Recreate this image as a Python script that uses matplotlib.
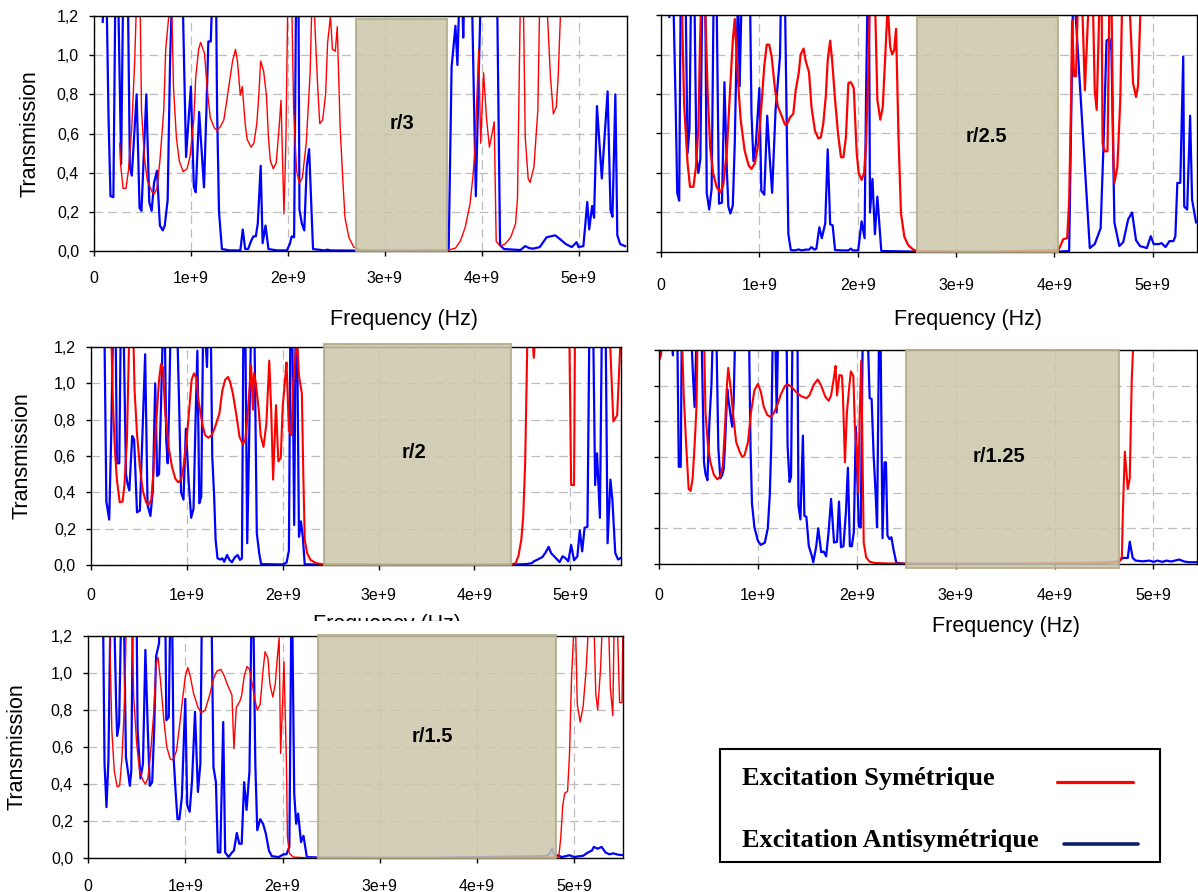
import numpy as np
import matplotlib
matplotlib.use('Agg')
import matplotlib.pyplot as plt
from matplotlib.patches import Rectangle
from matplotlib.lines import Line2D

# ---------------- DATA (frequency in GHz, transmission) ----------------
p1_blue = [(0.09,1.17),(0.10,1.3),(0.13,1.3),(0.15,0.68),(0.17,0.28),(0.20,0.275),(0.22,1.3),(0.25,1.3),(0.28,0.445),(0.30,1.3),
           (0.35,1.3),(0.37,0.43),(0.39,0.385),(0.44,0.80),(0.47,0.22),(0.49,0.205),(0.54,0.80),(0.57,0.25),(0.595,0.205),(0.62,0.35),
           (0.65,0.41),(0.68,0.13),(0.71,0.105),(0.73,0.13),(0.76,0.26),(0.785,0.97),(0.805,1.3),(0.915,1.3),(0.95,0.48),(0.97,0.63),
           (1.0,0.84),(1.03,0.33),(1.05,0.30),(1.085,0.71),(1.135,0.325),(1.16,0.72),(1.18,1.07),(1.205,1.07),(1.22,1.3),(1.26,1.3),
           (1.27,0.72),(1.29,0.20),(1.32,0.01),(1.40,0.003),(1.51,0.003),(1.535,0.11),(1.56,0.01),(1.59,0.01),(1.62,0.05),(1.645,0.075),
           (1.67,0.075),(1.69,0.14),(1.72,0.435),(1.74,0.04),(1.77,0.13),(1.80,0.01),(1.89,0.003),(1.99,0.003),(2.02,0.035),(2.04,0.075),
           (2.065,0.07),(2.085,1.3),(2.11,1.3),(2.12,0.21),(2.145,0.14),(2.17,0.105),(2.195,0.43),(2.22,0.52),(2.26,0.01),(2.38,0.003),
           (2.41,0.007),(2.44,0.003),(2.70,0.002),(3.0,0.001),(3.64,0.003),(3.66,0.01),(3.69,0.94),(3.73,1.15),(3.75,0.95),(3.77,1.3),
           (3.80,1.3),(3.81,1.09),(3.82,1.3),(3.90,1.3),(3.94,0.28),(3.99,1.3),(4.16,1.3),(4.19,0.03),(4.23,0.01),
           (4.40,0.005),(4.45,0.025),(4.49,0.015),(4.53,0.012),(4.60,0.02),(4.67,0.07),(4.76,0.08),(4.81,0.06),(4.87,0.035),(4.93,0.02),
           (4.98,0.045),(5.0,0.02),(5.05,0.025),(5.09,0.25),(5.11,0.11),(5.14,0.23),(5.16,0.17),(5.19,0.74),(5.24,0.37),(5.30,0.815),
           (5.33,0.21),(5.35,0.175),(5.38,0.80),(5.40,0.08),(5.43,0.035),(5.48,0.025)]
p1_red = [(0.265,0.55),(0.275,0.44),(0.30,0.32),(0.33,0.32),(0.355,0.41),(0.39,0.63),(0.42,0.97),(0.44,1.3),(0.475,1.3),(0.49,0.72),
          (0.52,0.48),(0.55,0.36),(0.60,0.30),(0.62,0.29),(0.65,0.32),(0.68,0.46),(0.72,0.72),(0.74,1.03),(0.77,1.19),(0.80,1.3),
          (0.82,0.84),(0.85,0.58),(0.88,0.46),(0.92,0.405),(0.96,0.42),(0.99,0.48),(1.03,0.67),(1.05,0.89),(1.08,1.03),(1.10,1.065),
          (1.14,1.01),(1.17,0.82),(1.20,0.68),(1.24,0.63),(1.27,0.615),(1.31,0.64),(1.34,0.67),(1.38,0.80),(1.40,0.87),(1.43,0.97),
          (1.46,1.03),(1.48,0.97),(1.51,0.795),(1.53,0.84),(1.56,0.65),(1.58,0.57),(1.62,0.53),(1.65,0.55),(1.68,0.65),(1.70,0.79),
          (1.72,0.97),(1.75,0.92),(1.78,0.79),(1.80,0.58),(1.82,0.46),(1.85,0.42),(1.88,0.45),(1.91,0.63),(1.93,0.77),(1.96,0.19),
          (1.98,0.55),(2.0,1.3),(2.04,1.3),(2.06,0.72),(2.09,0.41),(2.12,0.345),(2.15,0.375),(2.19,0.55),(2.23,0.905),(2.25,1.3),
          (2.27,1.3),(2.28,1.145),(2.31,0.82),(2.33,0.65),(2.36,0.67),(2.39,0.80),(2.41,1.06),(2.44,1.2),(2.46,1.03),(2.49,1.02),
          (2.51,1.145),(2.54,0.63),(2.57,0.34),(2.59,0.17),(2.63,0.07),(2.68,0.02),(2.75,0.007),(3.2,0.002),(3.66,0.005),(3.73,0.015),
          (3.78,0.05),(3.83,0.12),(3.88,0.24),(3.91,0.38),(3.93,0.51),(3.97,1.03),(3.99,0.55),(4.02,0.91),(4.05,0.68),(4.08,0.53),
          (4.10,0.58),(4.13,0.66),(4.15,0.05),(4.19,0.025),(4.24,0.035),(4.30,0.07),(4.35,0.14),(4.37,0.27),(4.40,1.3),(4.43,1.3),
          (4.45,0.58),(4.48,0.37),(4.50,0.35),(4.54,0.43),(4.58,0.72),(4.60,1.3),(4.67,1.3),(4.71,0.89),(4.74,0.70),(4.77,0.735),
          (4.79,0.89),(4.82,1.3),(5.5,1.3)]

p2_blue = [(0.085,1.19),(0.10,1.3),(0.125,1.3),(0.15,0.72),(0.165,0.30),(0.185,0.26),(0.20,1.3),(0.25,1.3),(0.27,0.50),(0.29,0.63),
           (0.305,1.3),(0.34,1.3),(0.36,0.48),(0.38,0.40),(0.40,0.47),(0.42,1.3),(0.45,1.3),(0.465,0.30),(0.49,0.215),(0.515,0.32),
           (0.535,1.3),(0.565,1.3),(0.59,0.245),(0.62,0.25),(0.645,0.86),(0.67,0.41),(0.685,0.23),(0.705,0.195),(0.73,0.235),(0.75,0.55),
           (0.77,1.06),(0.785,1.3),(0.80,0.84),(0.82,1.3),(0.905,1.3),(0.92,0.70),(0.94,0.46),(0.965,0.55),(1.0,0.83),(1.02,0.31),
           (1.05,0.29),(1.08,0.69),(1.105,0.48),(1.13,0.30),(1.165,0.72),(1.21,0.99),(1.22,1.3),(1.26,1.3),(1.28,0.58),(1.295,0.09),
           (1.32,0.01),(1.36,0.008),(1.40,0.013),(1.43,0.008),(1.47,0.012),(1.505,0.012),(1.53,0.025),(1.56,0.012),(1.58,0.017),(1.61,0.125),
           (1.635,0.07),(1.67,0.145),(1.695,0.52),(1.72,0.14),(1.745,0.135),(1.77,0.01),(1.84,0.008),(1.905,0.008),(1.93,0.017),(1.95,0.008),
           (2.005,0.008),(2.04,0.155),(2.07,0.07),(2.085,0.80),(2.10,1.3),(2.115,1.3),(2.125,0.20),(2.15,0.37),(2.175,0.09),(2.20,0.28),
           (2.24,0.005),(2.58,0.002),(3.0,0.001),(4.04,0.002),(4.15,0.005),(4.19,1.3),(4.21,1.25),(4.36,0.02),(4.41,0.04),(4.47,0.12),
           (4.50,0.55),(4.53,1.07),(4.56,1.08),(4.58,1.02),(4.61,0.15),(4.66,0.03),(4.70,0.05),(4.75,0.165),(4.79,0.20),(4.83,0.06),
           (4.87,0.03),(4.94,0.02),(4.98,0.08),(5.01,0.04),(5.06,0.04),(5.09,0.045),(5.13,0.025),(5.17,0.055),(5.21,0.055),(5.23,0.08),
           (5.25,0.35),(5.28,0.35),(5.31,0.99),(5.32,0.23),(5.35,0.215),(5.38,0.69),(5.40,0.265),(5.44,0.15)]
p2_red = [(0.21,1.3),(0.235,0.75),(0.27,0.45),(0.295,0.33),(0.33,0.33),(0.355,0.43),(0.38,0.63),(0.395,1.02),(0.41,1.3),(0.445,1.3),
          (0.475,0.80),(0.50,0.53),(0.53,0.40),(0.565,0.33),(0.605,0.30),(0.635,0.345),(0.67,0.515),(0.70,0.80),(0.73,1.07),(0.75,1.18),
          (0.78,0.89),(0.81,0.67),(0.85,0.515),(0.89,0.44),(0.92,0.42),(0.955,0.45),(0.99,0.55),(1.02,0.735),(1.05,0.94),(1.075,1.05),
          (1.10,1.05),(1.125,0.99),(1.16,0.82),(1.19,0.735),(1.23,0.685),(1.26,0.645),(1.29,0.655),(1.31,0.68),(1.345,0.70),(1.37,0.82),
          (1.40,0.905),(1.42,1.0),(1.45,1.03),(1.47,0.97),(1.505,0.91),(1.53,0.735),(1.565,0.615),(1.60,0.575),(1.625,0.58),(1.65,0.65),
          (1.675,0.785),(1.695,0.97),(1.72,1.07),(1.74,0.97),(1.77,0.77),(1.80,0.60),(1.83,0.48),(1.855,0.48),(1.88,0.58),(1.905,0.855),
          (1.93,0.86),(1.96,0.83),(1.99,0.50),(2.01,0.40),(2.04,0.365),(2.065,0.40),(2.085,0.55),(2.11,0.97),(2.125,1.3),(2.175,1.3),
          (2.20,0.77),(2.23,0.67),(2.255,0.735),(2.28,0.99),(2.305,1.25),(2.33,1.04),(2.35,1.0),(2.37,1.02),(2.39,1.13),(2.415,0.58),
          (2.44,0.195),(2.475,0.076),(2.515,0.034),(2.565,0.012),(2.615,0.004),(3.3,0.001),(4.04,0.01),(4.06,0.03),(4.09,0.065),(4.13,0.07),
          (4.15,0.26),(4.17,0.77),(4.18,1.17),(4.20,0.89),(4.22,0.89),(4.24,1.3),(4.28,1.3),(4.31,0.82),(4.34,1.17),(4.36,1.3),
          (4.39,1.3),(4.41,0.82),(4.43,0.72),(4.45,1.1),(4.46,1.3),(4.48,1.3),(4.49,0.55),(4.51,0.51),(4.54,0.51),(4.56,1.3),
          (4.58,1.3),(4.60,0.48),(4.61,0.35),(4.64,0.43),(4.67,0.77),(4.69,1.3),(4.76,1.3),(4.80,0.855),(4.83,0.785),(4.85,0.84),
          (4.88,1.3),(5.45,1.3)]

p3_blue = [(0.14,1.3),(0.16,0.35),(0.19,0.25),(0.21,0.69),(0.23,1.3),(0.257,1.3),(0.27,0.56),(0.295,0.56),(0.31,1.3),(0.34,1.3),
           (0.365,0.50),(0.38,0.45),(0.40,0.41),(0.43,0.71),(0.45,0.69),(0.48,0.29),(0.51,0.30),(0.565,1.16),(0.59,0.33),(0.62,0.27),
           (0.645,0.41),(0.67,1.0),(0.69,0.49),(0.71,0.50),(0.73,0.87),(0.75,1.3),(0.77,1.3),(0.785,0.69),(0.80,0.56),(0.815,0.87),
           (0.83,1.3),(0.90,1.3),(0.92,0.87),(0.94,0.40),(0.965,0.36),(0.99,0.75),(1.02,0.45),(1.045,0.26),(1.07,0.31),(1.09,0.78),
           (1.11,1.18),(1.13,0.34),(1.15,0.375),(1.17,1.3),(1.19,1.3),(1.21,1.09),(1.22,1.3),(1.25,1.3),(1.265,0.60),(1.285,0.375),
           (1.30,0.14),(1.32,0.037),(1.35,0.03),(1.37,0.037),(1.39,0.018),(1.42,0.055),(1.445,0.028),(1.47,0.015),(1.50,0.042),(1.53,0.055),
           (1.555,0.028),(1.575,0.037),(1.59,1.3),(1.61,1.3),(1.63,0.12),(1.65,0.69),(1.67,1.3),(1.705,1.3),(1.73,0.175),(1.755,0.065),
           (1.775,0.005),(2.0,0.003),(2.04,0.013),(2.065,0.08),(2.08,1.3),(2.10,1.3),(2.12,0.22),(2.135,1.3),(2.15,1.3),(2.17,0.155),
           (2.19,0.24),(2.21,0.155),(2.23,0.004),(2.42,0.002),(3.3,0.001),(4.38,0.002),(4.54,0.005),(4.60,0.01),(4.62,0.02),(4.66,0.03),
           (4.71,0.044),(4.74,0.066),(4.775,0.10),(4.80,0.066),(4.85,0.038),(4.89,0.016),(4.92,0.048),(4.95,0.038),(4.98,0.02),(5.01,0.11),
           (5.04,0.026),(5.075,0.048),(5.10,0.19),(5.125,0.075),(5.15,0.205),(5.18,0.21),(5.20,1.3),(5.24,1.3),(5.26,0.44),(5.28,0.615),
           (5.31,0.26),(5.33,1.3),(5.37,1.3),(5.39,0.12),(5.42,0.47),(5.44,0.36),(5.47,0.066),(5.50,0.03),(5.53,0.04)]
p3_red = [(0.21,1.3),(0.23,0.87),(0.25,0.63),(0.27,0.47),(0.30,0.345),(0.33,0.35),(0.35,0.45),(0.375,0.69),(0.39,1.05),(0.40,1.3),
          (0.44,1.3),(0.455,0.96),(0.48,0.72),(0.51,0.54),(0.54,0.41),(0.575,0.345),(0.60,0.33),(0.63,0.36),(0.65,0.50),(0.68,0.78),
          (0.71,1.02),(0.73,1.105),(0.75,1.09),(0.775,0.835),(0.81,0.65),(0.845,0.54),(0.88,0.475),(0.91,0.455),(0.94,0.47),(0.965,0.54),
          (1.0,0.705),(1.03,0.89),(1.05,1.02),(1.075,1.055),(1.10,1.03),(1.12,0.91),(1.16,0.78),(1.19,0.715),(1.225,0.70),(1.26,0.715),
          (1.295,0.76),(1.34,0.835),(1.37,0.96),(1.40,1.02),(1.43,1.035),(1.45,1.01),(1.48,0.945),(1.52,0.815),(1.55,0.705),(1.585,0.665),
          (1.61,0.69),(1.63,0.80),(1.65,0.945),(1.67,1.10),(1.69,0.855),(1.70,1.055),(1.72,1.0),(1.75,0.855),(1.77,0.715),(1.80,0.65),
          (1.83,0.78),(1.86,1.125),(1.88,0.855),(1.90,0.47),(1.93,0.88),(1.955,0.57),(1.98,0.59),(2.0,0.87),(2.025,1.02),(2.04,1.115),
          (2.065,0.74),(2.09,0.715),(2.11,1.0),(2.135,1.165),(2.15,1.25),(2.17,1.04),(2.20,0.945),(2.215,0.505),(2.23,0.14),(2.255,0.065),
          (2.29,0.028),(2.35,0.01),(2.42,0.004),(3.4,0.001),(4.38,0.002),(4.43,0.01),(4.46,0.05),(4.49,0.14),(4.51,0.27),(4.53,0.56),
          (4.555,1.3),(4.60,1.3),(4.62,1.14),(4.64,1.3),(4.99,1.3),(5.01,0.44),(5.04,0.44),(5.05,1.3),(5.41,1.3),(5.45,0.79),
          (5.49,0.825),(5.53,1.3)]

p4_blue = [(0.01,1.17),(0.03,1.3),(0.125,1.3),(0.14,1.17),(0.15,1.3),(0.185,1.3),(0.20,0.545),(0.22,0.545),(0.23,1.3),(0.325,1.3),
           (0.345,1.04),(0.36,0.88),(0.38,1.3),(0.43,1.3),(0.455,0.57),(0.47,0.505),(0.49,0.47),(0.51,0.80),(0.53,1.0),(0.545,1.3),
           (0.58,1.3),(0.60,0.65),(0.62,0.48),(0.64,0.50),(0.655,0.535),(0.67,0.70),(0.69,0.98),(0.70,0.93),(0.72,0.85),(0.74,0.77),
           (0.755,0.91),(0.77,1.3),(0.91,1.3),(0.925,0.665),(0.94,0.34),(0.965,0.205),(1.0,0.13),(1.03,0.107),(1.07,0.12),(1.10,0.20),
           (1.12,0.385),(1.135,0.665),(1.15,1.3),(1.175,1.3),(1.19,0.85),(1.205,1.3),(1.29,1.3),(1.30,0.665),(1.32,0.46),(1.335,0.49),
           (1.35,1.3),(1.40,1.3),(1.41,0.33),(1.43,0.25),(1.455,0.72),(1.47,0.27),(1.49,0.265),(1.515,0.10),(1.54,0.056),(1.56,0.01),
           (1.59,0.10),(1.61,0.20),(1.64,0.066),(1.665,0.07),(1.69,0.043),(1.715,0.18),(1.74,0.365),(1.77,0.12),(1.80,0.125),(1.82,0.35),
           (1.84,0.094),(1.865,0.10),(1.89,0.29),(1.91,0.54),(1.93,0.10),(1.95,0.10),(1.97,0.18),(1.99,0.77),(2.02,0.21),(2.04,0.205),
           (2.06,1.3),(2.11,1.3),(2.13,0.93),(2.15,0.925),(2.17,0.61),(2.19,0.40),(2.205,0.205),(2.225,1.3),(2.24,1.3),(2.26,0.145),
           (2.28,0.57),(2.295,0.57),(2.31,0.16),(2.33,0.14),(2.35,0.15),(2.37,0.085),(2.40,0.006),(2.48,0.002),(3.5,0.001),(4.50,0.005),
           (4.65,0.015),(4.69,0.034),(4.74,0.034),(4.76,0.125),(4.79,0.034),(4.82,0.019),(4.89,0.015),(4.96,0.019),(5.0,0.012),(5.04,0.019),
           (5.09,0.012),(5.13,0.019),(5.18,0.014),(5.26,0.025),(5.31,0.014),(5.36,0.01),(5.44,0.01)]
p4_red = [(0.0,1.14),(0.02,1.17),(0.04,1.3),(0.23,1.3),(0.25,0.95),(0.275,0.665),(0.30,0.42),(0.32,0.41),(0.34,0.48),(0.36,0.665),
          (0.38,0.89),(0.39,1.3),(0.455,1.3),(0.47,0.85),(0.495,0.665),(0.52,0.57),(0.555,0.50),(0.59,0.475),(0.62,0.49),(0.645,0.55),
          (0.67,0.80),(0.685,0.985),(0.70,1.10),(0.725,0.985),(0.75,0.835),(0.78,0.685),(0.815,0.63),(0.84,0.60),(0.865,0.61),(0.90,0.685),
          (0.93,0.85),(0.965,0.975),(1.0,1.01),(1.03,0.965),(1.06,0.88),(1.095,0.835),(1.13,0.825),(1.16,0.845),(1.195,0.89),(1.235,0.955),
          (1.275,1.0),(1.31,1.005),(1.345,0.99),(1.385,0.965),(1.44,0.94),(1.49,0.93),(1.52,0.945),(1.565,1.005),(1.605,1.035),(1.64,1.0),
          (1.68,0.94),(1.715,0.915),(1.74,0.945),(1.77,1.05),(1.785,1.11),(1.80,0.945),(1.825,1.06),(1.85,1.055),(1.86,0.945),(1.88,0.57),
          (1.90,0.85),(1.925,1.0),(1.94,1.08),(1.965,1.055),(1.98,0.78),(2.0,0.61),(2.015,0.40),(2.03,0.85),(2.045,1.14),(2.07,0.12),
          (2.095,0.037),(2.13,0.013),(2.18,0.006),(2.31,0.003),(2.52,0.002),(3.5,0.001),(4.65,0.01),(4.68,0.04),(4.69,0.28),(4.71,0.63),
          (4.74,0.42),(4.76,0.48),(4.78,1.03),(4.80,1.3),(5.44,1.3)]

p5_blue = [(0.155,1.3),(0.17,0.51),(0.19,0.275),(0.21,0.53),(0.23,1.3),(0.27,1.3),(0.29,0.815),(0.30,0.66),(0.32,0.725),(0.34,1.3),
           (0.37,1.3),(0.39,0.545),(0.41,0.47),(0.43,0.39),(0.445,0.47),(0.46,1.3),(0.50,1.3),(0.51,0.69),(0.54,0.43),(0.565,0.51),
           (0.59,1.125),(0.615,0.69),(0.635,0.39),(0.66,0.41),(0.68,0.69),(0.70,1.09),(0.73,1.16),(0.74,1.3),(0.795,1.3),(0.805,0.745),
           (0.83,0.76),(0.845,1.3),(0.865,1.3),(0.88,0.545),(0.90,0.365),(0.92,0.21),(0.94,0.21),(0.965,0.33),(1.0,0.86),(1.02,0.285),
           (1.045,0.25),(1.07,0.42),(1.10,0.79),(1.13,0.357),(1.155,0.51),(1.17,1.3),(1.27,1.3),(1.29,0.49),(1.315,0.41),(1.335,0.03),
           (1.36,0.03),(1.39,0.735),(1.41,0.03),(1.445,0.005),(1.48,0.03),(1.50,0.04),(1.53,0.135),(1.555,0.077),(1.58,0.077),(1.605,0.41),
           (1.63,0.26),(1.66,0.47),(1.68,1.3),(1.70,1.3),(1.72,0.51),(1.74,0.15),(1.77,0.21),(1.80,0.185),(1.83,0.128),(1.86,0.04),
           (1.89,0.01),(1.96,0.005),(2.01,0.02),(2.04,0.02),(2.07,0.06),(2.09,1.3),(2.10,1.3),(2.12,0.35),(2.14,0.185),(2.16,0.24),
           (2.19,0.086),(2.215,0.12),(2.25,0.005),(2.4,0.002),(3.5,0.001),(4.70,0.01),(4.74,0.02),(4.77,0.05),(4.80,0.01),(4.83,0.015),
           (4.87,0.005),(4.95,0.015),(5.0,0.005),(5.03,0.008),(5.09,0.012),(5.14,0.03),(5.18,0.04),(5.20,0.06),(5.24,0.05),(5.28,0.06),
           (5.32,0.03),(5.36,0.02),(5.40,0.025),(5.45,0.018),(5.50,0.015)]
p5_red = [(0.22,1.3),(0.245,0.69),(0.27,0.47),(0.30,0.385),(0.325,0.39),(0.35,0.545),(0.37,0.78),(0.385,1.05),(0.395,1.3),(0.45,1.3),
          (0.47,0.87),(0.50,0.62),(0.53,0.47),(0.565,0.42),(0.59,0.40),(0.615,0.43),(0.64,0.545),(0.675,0.78),(0.70,1.05),(0.72,1.085),
          (0.745,0.96),(0.78,0.745),(0.81,0.60),(0.845,0.535),(0.875,0.53),(0.91,0.58),(0.94,0.71),(0.975,0.87),(1.0,0.98),(1.025,1.03),
          (1.05,0.985),(1.085,0.89),(1.13,0.815),(1.165,0.785),(1.205,0.80),(1.25,0.88),(1.29,0.97),(1.325,1.01),(1.365,1.02),(1.40,0.985),
          (1.435,0.935),(1.48,0.88),(1.50,0.59),(1.525,0.815),(1.56,0.845),(1.58,0.88),(1.605,0.98),(1.635,1.035),(1.66,1.02),(1.685,0.95),
          (1.72,0.845),(1.74,0.80),(1.77,0.83),(1.80,1.015),(1.82,1.115),(1.85,1.08),(1.87,0.94),(1.90,0.87),(1.925,0.94),(1.95,1.105),
          (1.965,1.19),(1.98,0.565),(2.0,0.835),(2.015,1.06),(2.04,0.51),(2.05,0.115),(2.07,0.025),(2.11,0.005),(2.22,0.002),(3.5,0.001),
          (4.84,0.005),(4.86,0.11),(4.88,0.28),(4.90,0.35),(4.93,0.36),(4.95,0.56),(4.97,0.96),(5.0,1.3),(5.01,1.3),(5.03,0.83),
          (5.06,0.735),(5.09,0.82),(5.12,1.01),(5.15,1.3),(5.20,1.3),(5.22,0.89),(5.24,0.80),(5.27,1.03),(5.29,1.3),(5.35,1.3),
          (5.37,0.92),(5.395,0.77),(5.41,1.3),(5.44,1.3),(5.465,0.84),(5.49,0.84),(5.50,1.3)]

# band gaps (GHz) and labels
gap_start = [2.70, 2.60, 2.43, 2.50, 2.36]
gap_end = [3.64, 4.04, 4.38, 4.65, 4.81]
gap_labels = ['r/3', 'r/2.5', 'r/2', 'r/1.25', 'r/1.5']
x_tick_labels = ['0', '1e+9', '2e+9', '3e+9', '4e+9', '5e+9']
y_tick_labels = ['0,0', '0,2', '0,4', '0,6', '0,8', '1,0', '1,2']
legend_labels = ['Excitation Symétrique', 'Excitation Antisymétrique']

# ---------------- LAYOUT ----------------
W, H = 1198, 892
plt.rcParams['font.family'] = ['Liberation Sans', 'DejaVu Sans']
fig = plt.figure(figsize=(W / 100, H / 100), dpi=100)

def px_rect(l, t, r, b):
    return [l / W, 1 - b / H, (r - l) / W, (b - t) / H]

panels = [
    dict(box=(94, 16, 627, 251), xmax=5.5, red=p1_red, blue=p1_blue, rlw=1.0, ylab=True, xpad=10.9,
         rect_y=(0.0, 1.185), txt=(3.18, 0.653), ylab_x=41),
    dict(box=(661, 15, 1197, 252), xmax=5.45, red=p2_red, blue=p2_blue, rlw=1.6, ylab=False, xpad=15.3,
         rect_y=(0.0, 1.19), txt=(3.31, 0.585), ylab_x=None),
    dict(box=(91, 347, 621, 565), xmax=5.53, red=p3_red, blue=p3_blue, rlw=1.5, ylab=True, xpad=13.2,
         rect_y=(0.0, 1.215), txt=(3.37, 0.618), ylab_x=33),
    dict(box=(659, 350, 1197, 564), xmax=5.44, red=p4_red, blue=p4_blue, rlw=1.5, ylab=False, xpad=13.9,
         rect_y=(-0.02, 1.2), txt=(3.44, 0.604), ylab_x=None),
    dict(box=(88, 636, 623, 858), xmax=5.5, red=p5_red, blue=p5_blue, rlw=1.0, ylab=True, xpad=11.7,
         rect_y=(0.0, 1.205), txt=(3.54, 0.658), ylab_x=28),
]

axes = []
for i, p in enumerate(panels):
    ax = fig.add_axes(px_rect(*p['box']))
    axes.append(ax)
    bf, bt = np.array(p['blue']).T
    rf, rt = np.array(p['red']).T
    ax.plot(bf * 1e9, bt, color='#0000FF', lw=1.6, zorder=2)
    ax.plot(rf * 1e9, rt, color='#FF0000', lw=p['rlw'], zorder=2.1)
    y0, y1 = p['rect_y']
    ax.add_patch(Rectangle((gap_start[i] * 1e9, y0), (gap_end[i] - gap_start[i]) * 1e9, y1 - y0,
                           facecolor=(0.80, 0.78, 0.67), edgecolor=(0.70, 0.67, 0.52), lw=1.5,
                           alpha=0.85, zorder=3, clip_on=False))
    ax.text(p['txt'][0] * 1e9, p['txt'][1], gap_labels[i], ha='center', va='center',
            fontsize=14.5, fontweight='bold', zorder=4)
    ax.set_xlim(0, p['xmax'] * 1e9)
    ax.set_ylim(0, 1.2)
    ax.set_xticks(np.arange(6) * 1e9)
    ax.set_xticklabels(x_tick_labels)
    ax.set_yticks(np.arange(7) * 0.2)
    ax.set_yticklabels(y_tick_labels)
    ax.grid(True, color='#BDBDBD', lw=0.9, linestyle=(0, (7, 4)))
    ax.set_axisbelow(True)
    ax.tick_params(axis='both', direction='out', length=3.5, width=1, labelsize=11.5, colors='black')
    ax.tick_params(axis='x', pad=p['xpad'])
    ax.tick_params(axis='y', pad=7.3, labelleft=p['ylab'])
    for s in ax.spines.values():
        s.set_color('black')
        s.set_linewidth(1.0)
    if p['ylab']:
        ax.set_ylabel('Transmission', fontsize=15.5)
        l, t, r, b = p['box']
        ax.yaxis.set_label_coords((p['ylab_x'] - l) / (r - l), 0.5)

axes[4].set_zorder(2)

# x-axis titles placed as in the reference (the middle-left one is partly hidden)
xlabel_pos = [(404, 325, 3), (968, 325, 3), (387, 630, 0.5), (1006, 632, 3)]
for (x, y, z) in xlabel_pos:
    fig.text(x / W, 1 - y / H, 'Frequency (Hz)', ha='center', va='baseline', fontsize=15.5, zorder=z)
fig.patches.append(Rectangle((0, 0), 645 / W, (H - 621) / H, transform=fig.transFigure,
                             facecolor='white', edgecolor='none', zorder=1))

# legend box
fig.patches.append(Rectangle((720 / W, 1 - 862 / H), 440 / W, 113 / H, transform=fig.transFigure,
                             fill=False, edgecolor='black', lw=1.5, zorder=3))
fig.text(742 / W, 1 - 785 / H, legend_labels[0], family=['Liberation Serif', 'DejaVu Serif'],
         fontweight='bold', fontsize=19, va='baseline', ha='left')
fig.text(742 / W, 1 - 847 / H, legend_labels[1], family=['Liberation Serif', 'DejaVu Serif'],
         fontweight='bold', fontsize=19, va='baseline', ha='left')
fig.add_artist(Line2D([1057 / W, 1133 / W], [1 - 782 / H] * 2, transform=fig.transFigure,
                      color='#FF0000', lw=2.3, solid_capstyle='round'))
fig.add_artist(Line2D([1064 / W, 1138 / W], [1 - 844 / H] * 2, transform=fig.transFigure,
                      color='#0D1F6B', lw=2.6, solid_capstyle='round'))

fig.savefig('out.png', dpi=100)
